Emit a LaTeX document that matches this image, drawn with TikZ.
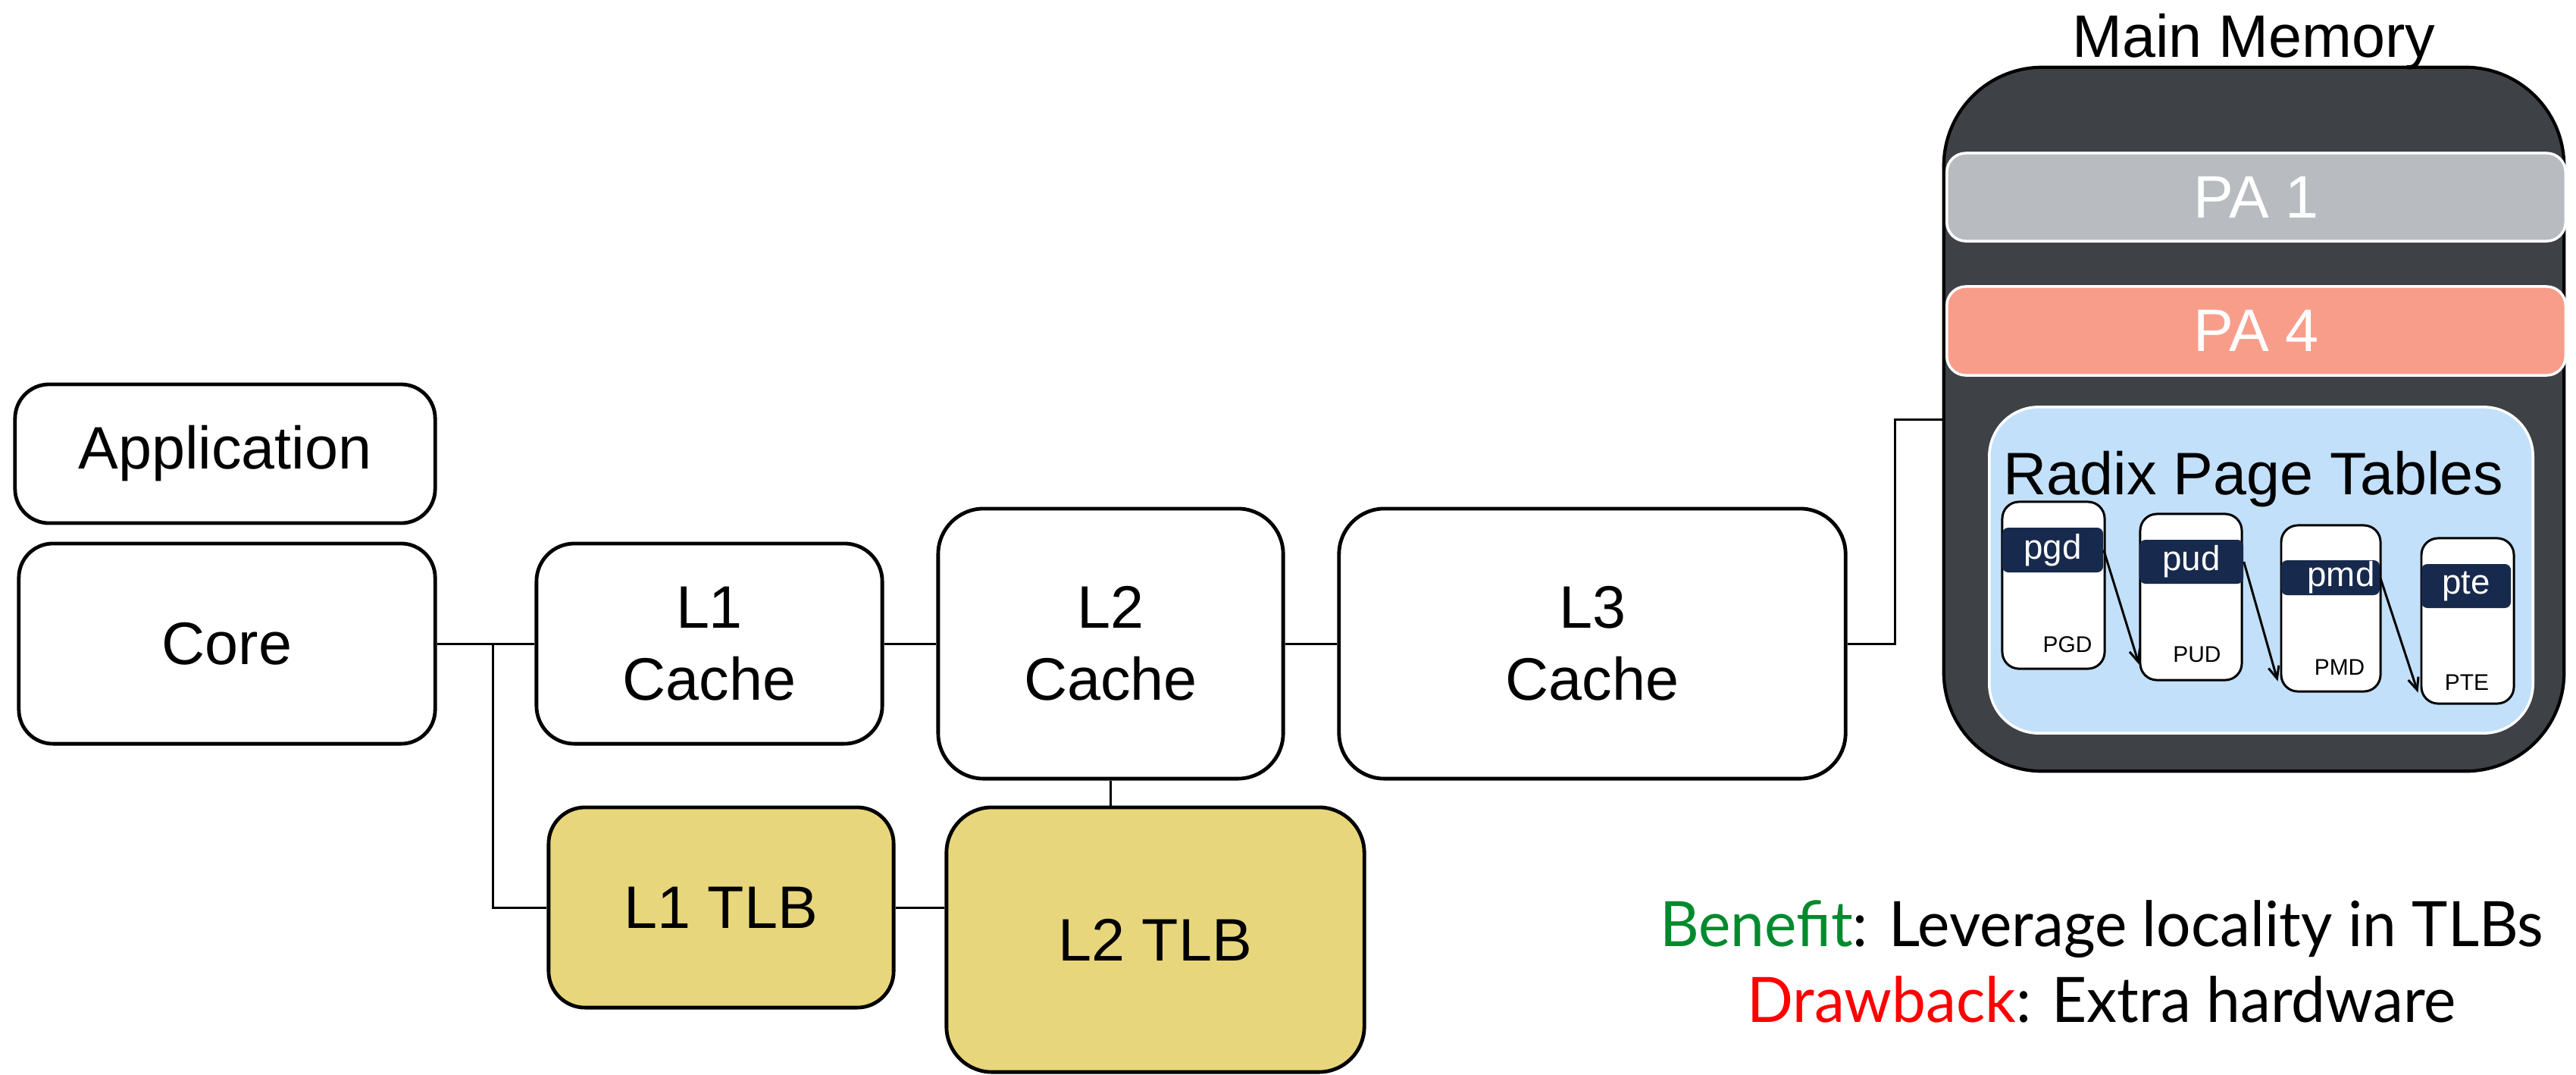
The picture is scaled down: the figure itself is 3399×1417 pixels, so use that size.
\documentclass[tikz,border=0pt]{standalone}
\usepackage{fontspec}
\setmainfont{Liberation Sans}
\newfontfamily\gillfont[FakeStretch=0.97]{Lato}
\usetikzlibrary{arrows.meta,calc}
\definecolor{mmgray}{HTML}{3E4146}
\definecolor{pagray}{HTML}{B8BBBF}
\definecolor{pasalmon}{HTML}{F99D8B}
\definecolor{radixblue}{HTML}{C2E0FA}
\definecolor{navybar}{HTML}{172A4D}
\definecolor{tlbyellow}{HTML}{E8D67C}
\definecolor{bgreen}{HTML}{008A2E}
\definecolor{bred}{HTML}{FF0000}
\tikzset{
  unitbox/.style={draw=black, line width=1.37pt, rounded corners=#1, fill=white,
    font=\fontsize{22.5}{27}\selectfont, align=center, inner sep=0pt},
  unitbox/.default=0.45cm,
  tlbbox/.style={unitbox=#1, fill=tlbyellow},
  tlbbox/.default=0.48cm,
  wire/.style={draw=black, line width=0.85pt},
  pabar/.style={draw=white, line width=1pt, rounded corners=0.25cm, text=white,
    font=\fontsize{22.5}{27}\selectfont, minimum width=8.16cm, inner sep=0pt},
  ptbox/.style={draw=black, line width=0.85pt, fill=white, rounded corners=0.22cm, inner sep=0pt},
  ptbar/.style={fill=navybar, rounded corners=0.08cm, text=white,
    font=\fontsize{13}{13}\selectfont, inner sep=0pt},
  ptlabel/.style={font=\fontsize{8.5}{10}\selectfont, anchor=base, inner sep=0pt},
  ptarrow/.style={draw=black, line width=0.85pt, -{Straight Barb[length=0.16cm,width=0.14cm]}},
  bigtext/.style={font=\fontsize{22.5}{27}\selectfont, inner sep=0pt},
  gilltext/.style={font=\gillfont\fontsize{23.5}{28}\selectfont, anchor=base, inner sep=0pt}
}
\begin{document}
\begin{tikzpicture}[x=0.01cm,y=-0.01cm]
\useasboundingbox (0,0) rectangle (3399,1417);
\clip (0,0) rectangle (3399,1417);

% left column
\node[unitbox=0.45cm, minimum width=5.54cm, minimum height=1.83cm] (app) at (297,598.5) {Application};
\node[unitbox=0.45cm, minimum width=5.49cm, minimum height=2.64cm] (core) at (299.5,849) {Core};
\node[unitbox=0.5cm, minimum width=4.56cm, minimum height=2.64cm] (l1) at (936,849) {L1\\Cache};
\node[unitbox=0.6cm, minimum width=4.55cm, minimum height=3.56cm] (l2) at (1465.5,849) {L2\\Cache};
\node[unitbox=0.6cm, minimum width=6.68cm, minimum height=3.56cm] (l3) at (2101,849) {L3\\Cache};
\node[tlbbox=0.48cm, minimum width=4.55cm, minimum height=2.64cm] (l1tlb) at (951.5,1197) {L1 TLB};
\node[tlbbox=0.6cm, minimum width=5.51cm, minimum height=3.49cm] (l2tlb) at (1524.5,1239.5) {L2 TLB};

% main memory
\node[draw=black, line width=1.2pt, fill=mmgray, rounded corners=1.3cm,
      minimum width=8.18cm, minimum height=9.28cm, inner sep=0pt] (mm) at (2974,553) {};
\node[bigtext, anchor=base] (mmlabel) at (2974,75) {Main Memory};
\node[pabar, fill=pagray, minimum height=1.16cm] (pa1) at (2977,260) {PA 1};
\node[pabar, fill=pasalmon, minimum height=1.17cm] (pa4) at (2977,436.5) {PA 4};
\node[draw=white, line width=1pt, fill=radixblue, rounded corners=0.65cm,
      minimum width=7.17cm, minimum height=4.30cm, inner sep=0pt] (radix) at (2983.5,752) {};
\node[bigtext, anchor=base west] (radixlabel) at (2643,652) {Radix Page Tables};

% page-table levels
\node[ptbox, minimum width=1.35cm, minimum height=2.20cm] (pgd) at (2709.5,772) {};
\node[ptbox, minimum width=1.34cm, minimum height=2.19cm] (pud) at (2891,787.5) {};
\node[ptbox, minimum width=1.31cm, minimum height=2.19cm] (pmd) at (3075.5,802.5) {};
\node[ptbox, minimum width=1.22cm, minimum height=2.18cm] (pte) at (3256,819) {};

\node[ptbar, minimum width=1.33cm, minimum height=0.59cm] (pgdbar) at (2708.5,725.5) {pgd};
\node[ptbar, minimum width=1.37cm, minimum height=0.58cm] (pudbar) at (2891.5,741) {pud};
\node[ptbar, minimum width=1.30cm, minimum height=0.46cm] (pmdbar) at (3075,762) {\hspace*{0.28cm}pmd};
\node[ptbar, minimum width=1.18cm, minimum height=0.58cm] (ptebar) at (3254,773) {pte};

\node[ptlabel] (pgdl) at (2728,860) {PGD};
\node[ptlabel] (pudl) at (2899,873) {PUD};
\node[ptlabel] (pmdl) at (3087,890) {PMD};
\node[ptlabel] (ptel) at (3255,910) {PTE};

\draw[ptarrow] (pgdbar.east) -- ($(pud.south west)+(0,-22)$);
\draw[ptarrow] (pudbar.east) -- ($(pmd.south west)+(-3,-15)$);
\draw[ptarrow] (pmdbar.east) -- ($(pte.south west)+(-3,-16)$);

% connectors
\coordinate (br) at (650,849);
\coordinate (bend) at (2500,849);
\draw[wire] (core.east) -- (l1.west);
\draw[wire] (br) |- (l1tlb.west);
\draw[wire] (l1.east) -- (l2.west);
\draw[wire] (l2.east) -- (l3.west);
\draw[wire] (l2.south) -- (l2.south |- l2tlb.north);
\draw[wire] (l1tlb.east) -- (l1tlb.east -| l2tlb.west);
\draw[wire] (l3.east) -- (bend) |- (mm.west);

% benefit / drawback
\node[gilltext] (benefit) at (2773,1248) {\textcolor{bgreen}{Benefit}: Leverage locality in TLBs};
\node[gilltext] (drawback) at (2773,1348) {\textcolor{bred}{Drawback}: Extra hardware};
\end{tikzpicture}
\end{document}
